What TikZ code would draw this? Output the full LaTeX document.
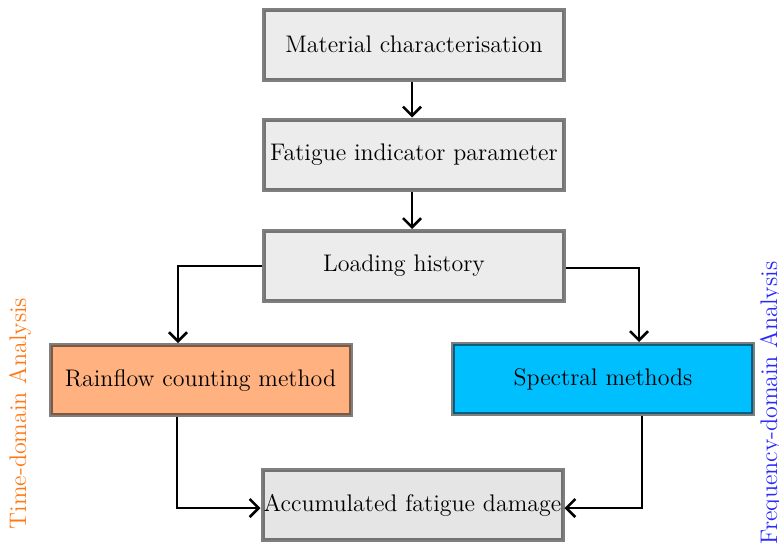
\documentclass[tikz,border=0pt]{standalone}
\usetikzlibrary{arrows.meta,calc}
\definecolor{boxgray}{gray}{0.925}
\definecolor{accgray}{gray}{0.9}
\definecolor{rfill}{RGB}{255,178,127}
\definecolor{sfill}{RGB}{0,191,255}
\definecolor{torange}{RGB}{255,120,20}
\definecolor{fblue}{RGB}{40,40,255}
\begin{document}
\begin{tikzpicture}[x=0.5pt,y=-0.5pt,
  procbox/.style={draw=black, draw opacity=0.5, line width=2pt, fill=boxgray,
    minimum width=150pt, minimum height=35pt, inner xsep=0.5pt, font=\large},
  conn/.style={line width=1.3pt, -{Straight Barb[length=4.5pt,width=9pt]}},
  sidelabel/.style={rotate=90, font=\large, inner sep=0pt}]
\clip (0,0) rectangle (779,547);
\useasboundingbox (0,0) rectangle (779,547);

\node[procbox] (mat) at (414,44.5) {Material characterisation};
\node[procbox] (fat) at (414,154.5) {Fatigue indicator parameter};
\node[procbox] (load) at (414,266) {Loading history\kern10pt};
\node[procbox, fill=rfill] (rf) at (200.5,380) {Rainflow counting method};
\node[procbox, fill=sfill] (sp) at (603,379) {Spectral methods};
\node[procbox, fill=accgray] (acc) at (412.5,505) {Accumulated fatigue damage};

\node[sidelabel, text=torange] (tlab) at (20,413.5) {Time-domain Analysis};
\node[sidelabel, text=fblue] (flab) at (771,403) {Frequency-domain Analysis};

\draw[conn] ($(mat.south)+(-2,0)$) -- ($(fat.north)+(-2,0)$);
\draw[conn] ($(fat.south)+(-2,0)$) -- ($(load.north)+(-2,0)$);
\draw[conn] (load.west) -| ($(rf.north)+(-22.5,0)$);
\draw[conn] ($(load.east)+(0,2)$) -| ($(sp.north)+(36,0)$);
\draw[conn] ($(rf.south)+(-23.5,0)$) |- ($(acc.west)+(0,3)$);
\draw[conn] ($(sp.south)+(39,0)$) |- ($(acc.east)+(0,3)$);
\end{tikzpicture}
\end{document}
